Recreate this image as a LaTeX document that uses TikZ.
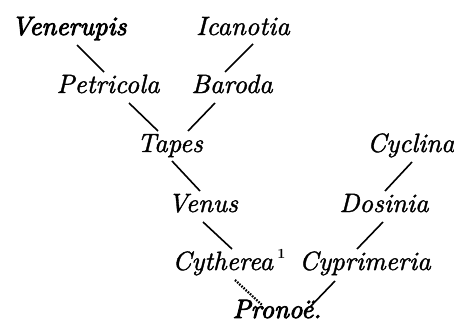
\documentclass[tikz,border=0pt]{standalone}
\usepackage{fontspec}
\newfontfamily\itA{lmroman10-italic}[Extension=.otf,FakeBold=1.3]
\newfontfamily\itB{lmroman10-italic}[Extension=.otf,FakeBold=3.2]
\newfontfamily\upB{lmroman10-bold}[Extension=.otf]
\begin{document}
\begin{tikzpicture}[x=1pt,y=-1pt,
  lbl/.style={anchor=base,inner sep=0pt,font=\fontsize{26.5}{30}\itA},
  blbl/.style={lbl,font=\fontsize{26.5}{30}\itB},
  br/.style={line width=1.6pt},
  dotbr/.style={line width=2.3pt,dash pattern=on 1.6pt off 1.3pt}]
\useasboundingbox (0,0) rectangle (454,332);
\node[blbl] (ven) at (69,35) {Venerupis};
\node[lbl] (ica) at (243,35) {Icanotia};
\node[lbl] (pet) at (108,93) {Petricola};
\node[lbl] (bar) at (232,93) {Baroda};
\node[lbl] (tap) at (170,152) {Tapes};
\node[lbl] (cyc) at (411,152) {Cyclina};
\node[lbl] (vns) at (203,212) {Venus};
\node[lbl] (dos) at (384,212) {Dosinia};
\node[lbl] (cyt) at (229,270) {Cytherea\,\raisebox{0.42em}{\upB\fontsize{14}{16}\selectfont 1}};
\node[lbl] (cyp) at (365,270) {Cyprimeria};
\node[blbl] (pro) at (277,318) {Pronoë.};
\draw[br] ([shift={(8,10)}]ven.base) -- ([shift={(-4,-21)}]pet.base);
\draw[br] ([shift={(10,9)}]ica.base) -- ([shift={(-7,-21)}]bar.base);
\draw[br] ([shift={(21,10)}]pet.base) -- ([shift={(-12,-21)}]tap.base);
\draw[br] ([shift={(-17,10)}]bar.base) -- ([shift={(18,-21)}]tap.base);
\draw[br] ([shift={(2,9)}]tap.base) -- ([shift={(-3,-21)}]vns.base);
\draw[br] ([shift={(1,10)}]cyc.base) -- ([shift={(1,-21)}]dos.base);
\draw[br] ([shift={(0,10)}]vns.base) -- ([shift={(3,-21)}]cyt.base);
\draw[br] ([shift={(-1,10)}]dos.base) -- ([shift={(-8,-21)}]cyp.base);
\draw[dotbr] ([shift={(6,10)}]cyt.base) -- ([shift={(-15,-13)}]pro.base);
\draw[br] ([shift={(-30,11)}]cyp.base) -- ([shift={(33,-11)}]pro.base);
\end{tikzpicture}
\end{document}
